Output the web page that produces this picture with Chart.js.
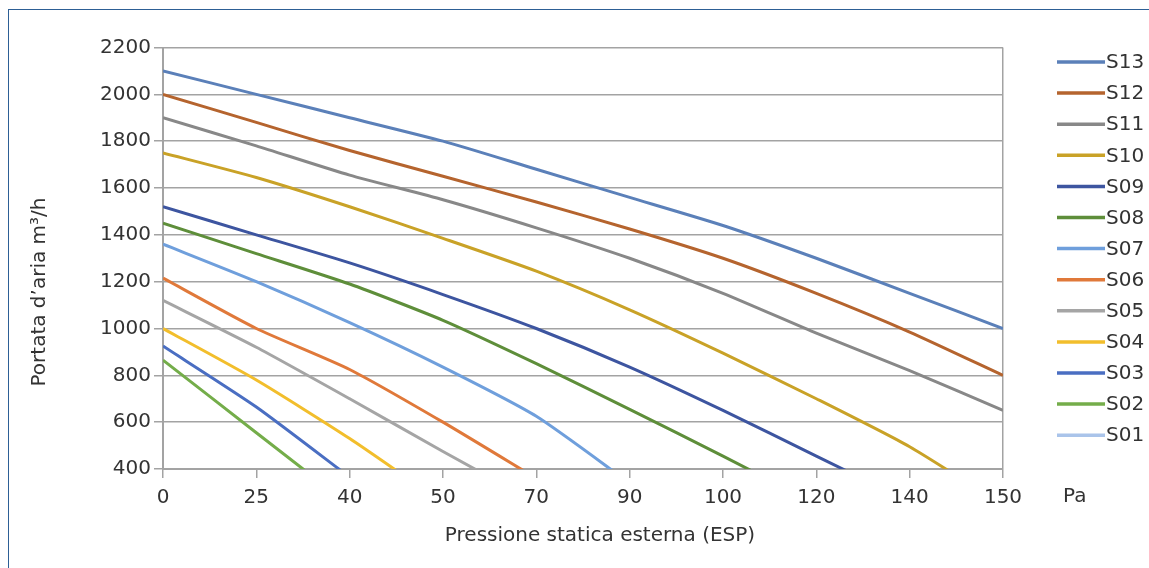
<!DOCTYPE html>
<html>
<head>
<meta charset="utf-8">
<script src="https://cdn.jsdelivr.net/npm/chart.js@4.4.1/dist/chart.umd.min.js"></script>
<style>
  html, body { margin: 0; padding: 0; background: #fff; }
  body { width: 1149px; height: 568px; position: relative; overflow: hidden; }
  #frame {
    position: absolute; left: 8px; top: 9px; width: 1160px; height: 580px;
    border-left: 1.5px solid #2d5f95; border-top: 1.5px solid #2d5f95;
  }
  #wrap { position: absolute; left: 0; top: 0; width: 1149px; height: 568px; }
</style>
</head>
<body>
<div id="frame"></div>
<div id="wrap"><canvas id="chart"></canvas></div>
<script>
// pressure categories (Pa), evenly spaced on the axis
const pressures = ['0', '25', '40', '50', '70', '90', '100', '120', '140', '150'];

// air flow m3/h per model; points under 400 run off the bottom of the axis
const s13 = [2100, 2000, 1900, 1800, 1680, 1560, 1440, 1300, 1150, 1000];
const s12 = [2000, 1880, 1760, 1650, 1540, 1425, 1300, 1150, 985, 800];
const s11 = [1900, 1780, 1655, 1550, 1430, 1300, 1150, 980, 820, 650];
const s10 = [1750, 1645, 1520, 1385, 1245, 1080, 895, 700, 495, 245];
const s09 = [1520, 1400, 1280, 1145, 1000, 835, 650, 455, 260];
const s08 = [1450, 1320, 1190, 1035, 850, 655, 455, 250];
const s07 = [1360, 1200, 1025, 835, 625, 340];
const s06 = [1215, 1000, 825, 600, 360];
const s05 = [1120, 920, 700, 475, 255];
const s04 = [1000, 780, 530, 255];
const s03 = [925, 665, 365];
const s02 = [865, 555, 245];
const s01 = [];

const seriesNames = ['S13', 'S12', 'S11', 'S10', 'S09', 'S08', 'S07', 'S06', 'S05', 'S04', 'S03', 'S02', 'S01'];
const seriesData = [s13, s12, s11, s10, s09, s08, s07, s06, s05, s04, s03, s02, s01];
const seriesColors = ['#5b80b9', '#b5642e', '#888888', '#c9a227', '#3d55a0', '#5e8e3a',
                      '#6f9fdc', '#e0793a', '#a5a5a5', '#f2be2c', '#4a6ec2', '#74ad4a', '#aac4ea'];

const TEXT = '#333333';
const GRID = '#a3a3a3';
const FONT = { family: 'DejaVu Sans', size: 20 };

const datasets = seriesNames.map((name, i) => ({
    label: name,
    data: seriesData[i],
    borderColor: seriesColors[i],
    backgroundColor: seriesColors[i],
    borderWidth: 3,
    pointRadius: 0,
    tension: 0.2,
    fill: false,
    clip: 0
}));

// axis titles, unit and legend placed like the original sheet
const sheetText = {
    id: 'sheetText',
    afterDraw(chart) {
        const ctx = chart.ctx;
        ctx.save();
        ctx.fillStyle = TEXT;
        ctx.font = `${FONT.size}px "${FONT.family}"`;

        ctx.textAlign = 'center';
        ctx.textBaseline = 'middle';
        ctx.fillText('Pressione statica esterna (ESP)', 600, 536);

        ctx.textAlign = 'left';
        ctx.fillText('Pa', 1063, 497);

        ctx.save();
        ctx.translate(40, 292);
        ctx.rotate(-Math.PI / 2);
        ctx.textAlign = 'center';
        ctx.fillText('Portata d\u2019aria m\u00B3/h', 0, 0);
        ctx.restore();

        chart.data.datasets.forEach((ds, i) => {
            const y = 62 + i * 31.1;
            ctx.strokeStyle = ds.borderColor;
            ctx.lineWidth = 3.5;
            ctx.beginPath();
            ctx.moveTo(1057, y);
            ctx.lineTo(1105, y);
            ctx.stroke();
            ctx.fillStyle = TEXT;
            ctx.textAlign = 'left';
            ctx.fillText(ds.label, 1106, y + 1);
        });
        ctx.restore();
    }
};

new Chart(document.getElementById('chart'), {
    type: 'line',
    data: { labels: pressures, datasets },
    options: {
        responsive: true,
        maintainAspectRatio: false,
        animation: false,
        layout: { padding: { left: 0, top: 47.5, right: 146, bottom: 0 } },
        plugins: {
            legend: { display: false },
            tooltip: { enabled: false }
        },
        scales: {
            x: {
                type: 'category',
                offset: false,
                border: { color: GRID, width: 2 },
                grid: {
                    color: (c) => (c.index === 0 || c.index === pressures.length - 1) ? GRID : 'rgba(0,0,0,0)',
                    tickColor: GRID,
                    tickLength: 9,
                    lineWidth: 1.5
                },
                ticks: { color: TEXT, font: FONT, padding: 8, maxRotation: 0, autoSkip: false },
                afterFit: (s) => { s.height = 99; }
            },
            y: {
                min: 400,
                max: 2200,
                border: { color: GRID, width: 2 },
                grid: { color: GRID, tickColor: GRID, tickLength: 9, lineWidth: 1.5 },
                ticks: { stepSize: 200, color: TEXT, font: FONT, padding: 3, callback: (v) => String(v) },
                afterFit: (s) => { s.width = 163; }
            }
        }
    },
    plugins: [sheetText]
});
</script>
</body>
</html>
